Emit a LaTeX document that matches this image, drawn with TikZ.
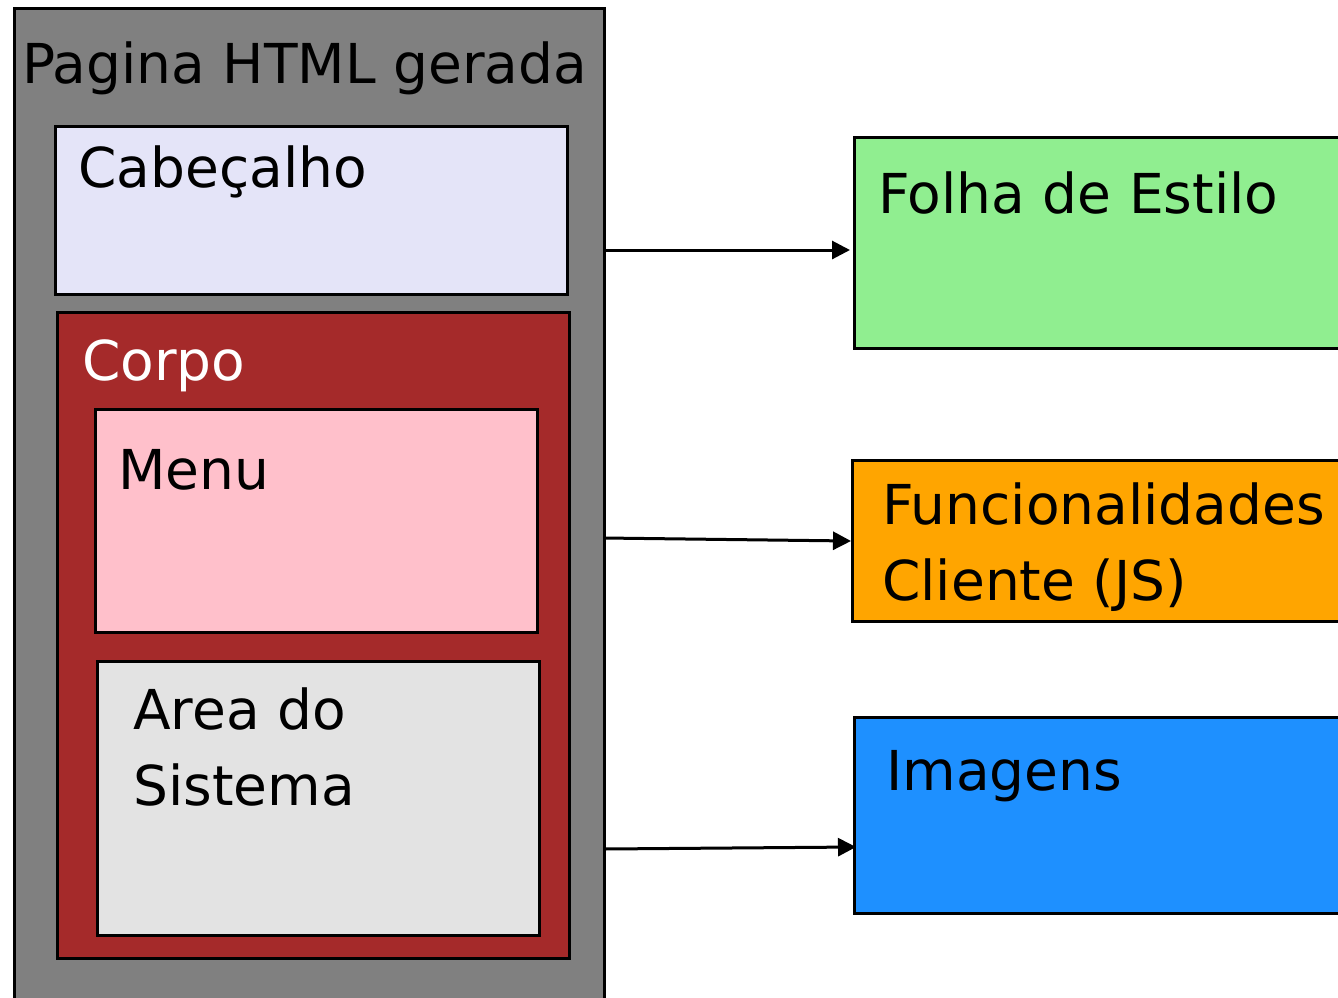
\documentclass[tikz,border=0pt]{standalone}
\usepackage{fontspec}
\setmainfont{DejaVu Sans}
\usetikzlibrary{arrows.meta}
\definecolor{pagegray}{RGB}{128,128,128}
\definecolor{headfill}{RGB}{228,228,248}
\definecolor{bodyfill}{RGB}{165,42,42}
\definecolor{menufill}{RGB}{255,192,203}
\definecolor{areafill}{RGB}{227,227,227}
\definecolor{cssfill}{RGB}{144,238,144}
\definecolor{jsfill}{RGB}{255,165,0}
\definecolor{imgfill}{RGB}{30,144,255}
\tikzset{
  box/.style={draw=black, line width=3pt},
  lbl/.style={anchor=base west, inner sep=0pt, font=\fontsize{55}{66}\selectfont},
  conn/.style={line width=3pt, -{Triangle[length=18pt,width=18pt]}}
}
\begin{document}
\begin{tikzpicture}[x=1pt,y=-1pt]
\useasboundingbox (0,0) rectangle (1338,997);
% outer page
\draw[box, fill=pagegray] (14,1010) -- (14,8) -- (604,8) -- (604,1010);
\node[lbl] (page) at (22,83) {Pagina HTML gerada};
% header
\draw[box, fill=headfill] (55,126) rectangle (567,294);
\node[lbl] (head) at (78,187) {Cabeçalho};
% body
\draw[box, fill=bodyfill] (57,312) rectangle (569,958);
\node[lbl, text=white] (corpo) at (82,380) {Corpo};
% menu
\draw[box, fill=menufill] (95,409) rectangle (537,632);
\node[lbl] (menu) at (118,489) {Menu};
% area
\draw[box, fill=areafill] (97,661) rectangle (539,935);
\node[lbl] (area1) at (133,729) {Area do};
\node[lbl] (area2) at (133,805) {Sistema};
% right boxes
\draw[box, fill=cssfill] (1350,137) -- (854,137) -- (854,348) -- (1350,348);
\node[lbl] (css) at (878,213) {Folha de Estilo};
\draw[box, fill=jsfill] (1350,460) -- (852,460) -- (852,621) -- (1350,621);
\node[lbl] (js1) at (882,524) {Funcionalidades};
\node[lbl] (js2) at (882,600) {Cliente (JS)};
\draw[box, fill=imgfill] (1350,717) -- (854,717) -- (854,913) -- (1350,913);
\node[lbl] (img) at (886,790) {Imagens};
% connectors
\coordinate (s1) at (604,250);
\coordinate (t1) at (850,250);
\coordinate (s2) at (604,538);
\coordinate (t2) at (851,541);
\coordinate (s3) at (604,849);
\coordinate (t3) at (856,847);
\draw[conn] (s1) -- (t1);
\draw[conn] (s2) -- (t2);
\draw[conn] (s3) -- (t3);
\end{tikzpicture}
\end{document}
